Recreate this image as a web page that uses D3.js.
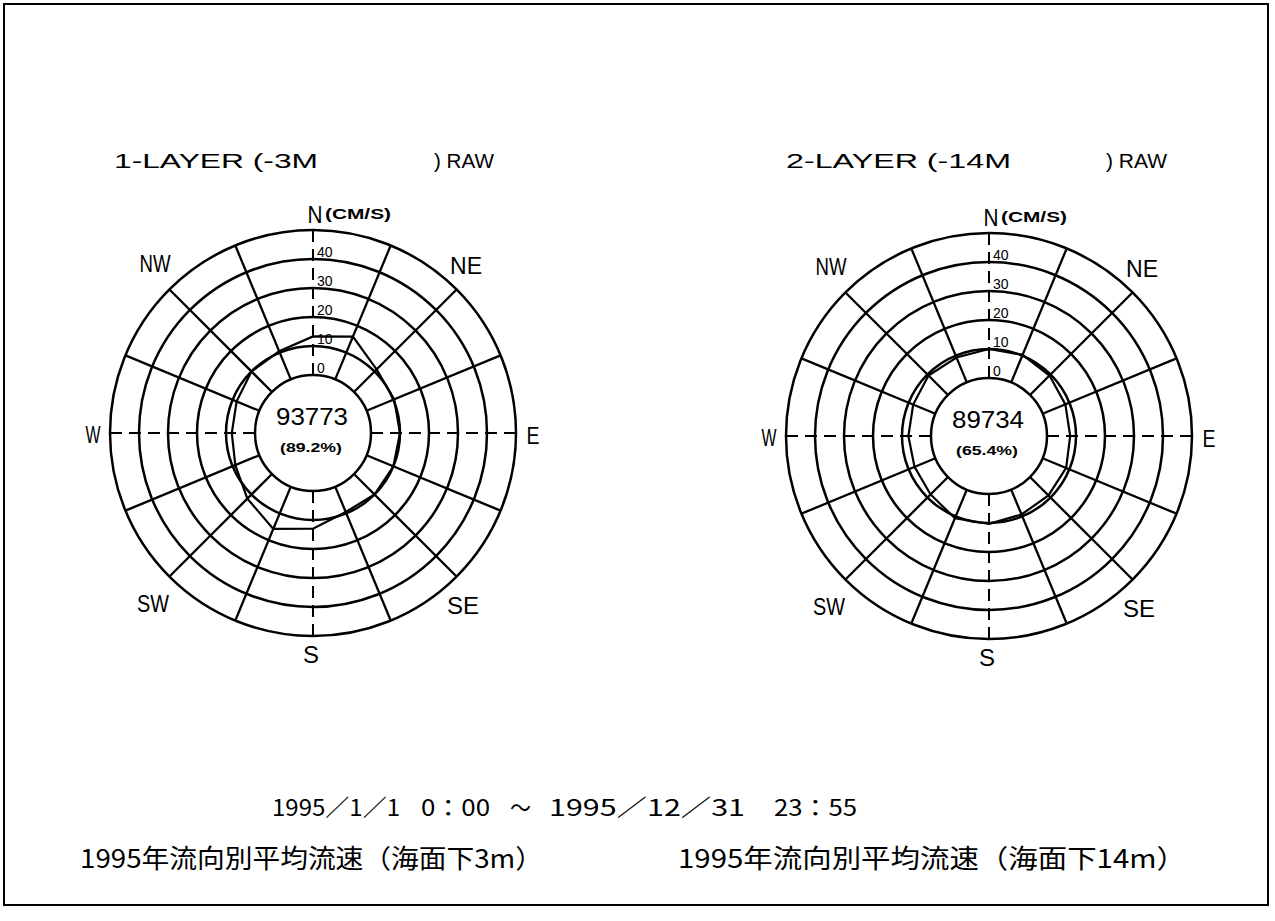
<!DOCTYPE html>
<html><head><meta charset="utf-8">
<script src="https://cdn.jsdelivr.net/npm/d3@7"></script>
<style>html,body{margin:0;padding:0;background:#fff;} svg{display:block}</style>
</head><body><svg id="c" width="1275" height="921"></svg>
<script>
// ---------- data ----------
const directions = ["N","NNE","NE","ENE","E","ESE","SE","SSE","S","SSW","SW","WSW","W","WNW","NW","NNW"];
const layer1Speeds = [13.3,16.0,11.0,10.3,10.0,10.0,10.0,9.5,13.0,15.8,12.0,9.0,8.0,8.5,10.0,10.5];
const layer2Speeds = [10.0,10.3,9.5,8.5,8.0,8.8,9.0,9.3,10.3,10.7,8.5,7.8,7.8,8.3,9.5,9.3];
const ringValues = [0,10,20,30,40,50];
const ringLabels = ["0","10","20","30","40"];
const compassLabels = ["N","NE","E","SE","S","SW","W","NW"];
const layerTitles = ["1-LAYER (-3M","2-LAYER (-14M"];
const rawLabel = ") RAW";
const unitLabel = "(CM/S)";
const dataCounts = ["93773","89734"];
const dataPercents = ["(89.2%)","(65.4%)"];
const captions = ["1995年流向別平均流速（海面下3m）","1995年流向別平均流速（海面下14m）"];
const periodParts = ["1995／1／1","0：00","～","1995／12／31","23：55"];

// ---------- layout ----------
const svg = d3.select("#c");
svg.append("rect").attr("width",1275).attr("height",921).attr("fill","#fff");
svg.append("rect").attr("x",4).attr("y",4).attr("width",1264).attr("height",901)
  .attr("fill","none").attr("stroke","#000").attr("stroke-width",2);

const FONT = "'Liberation Sans', Arial, sans-serif";
const JFONT = "'Noto Sans CJK JP', sans-serif";

const charts = [
  {cx:313, cy:433, speeds:layer1Speeds, title:layerTitles[0], tX:[114,318], rX:[434,494], count:dataCounts[0], pct:dataPercents[0], cap:captions[0], capX:[80,543]},
  {cx:989, cy:436, speeds:layer2Speeds, title:layerTitles[1], tX:[786,1011], rX:[1106,1167], count:dataCounts[1], pct:dataPercents[1], cap:captions[1], capX:[678,1186]}
];

const rScale = d3.scaleLinear().domain([0,50]).range([58,203]);
const aScale = d3.scaleLinear().domain([0,directions.length]).range([0,2*Math.PI]);

// compass label placement (dx, dy from centre, width)
const compassPos = {
  N:[2,-210,15], NE:[153,-159,32], E:[220,11,13], SE:[150,181,32],
  S:[-2,230,16], SW:[-160,179,32], W:[-220,10,15], NW:[-158,-161,31]
};

charts.forEach(c => {
  const g = svg.append("g").attr("transform",`translate(${c.cx},${c.cy})`);
  // rings
  g.selectAll("circle.ring").data(ringValues).enter().append("circle")
    .attr("r", d => rScale(d)).attr("fill","none").attr("stroke","#000").attr("stroke-width",2.5);
  // radial lines
  directions.forEach((d,i) => {
    const a = aScale(i);
    const r0 = rScale(0), r1 = rScale(50);
    const cardinal = i % 4 === 0;
    g.append("line")
      .attr("x1", r0*Math.sin(a)).attr("y1", -r0*Math.cos(a))
      .attr("x2", r1*Math.sin(a)).attr("y2", -r1*Math.cos(a))
      .attr("stroke","#000").attr("stroke-width", cardinal ? 2 : 2.3)
      .attr("stroke-dasharray", cardinal ? "12,7" : null);
  });
  // data polygon
  const line = d3.lineRadial()
    .angle((d,i) => aScale(i))
    .radius(d => rScale(d))
    .curve(d3.curveLinearClosed);
  g.append("path").attr("d", line(c.speeds)).attr("fill","none")
    .attr("stroke","#000").attr("stroke-width",2.2);
  // ring labels along north
  ringLabels.forEach((t,i) => {
    g.append("text").attr("x",4).attr("y",-rScale(ringValues[i]) - 2)
      .attr("font-family",FONT).attr("font-size",14).text(t);
  });
  // compass labels
  compassLabels.forEach(k => {
    const p = compassPos[k];
    g.append("text").attr("x",p[0]).attr("y",p[1]).attr("text-anchor","middle")
      .attr("font-family",FONT).attr("font-size",24)
      .attr("textLength",p[2]).attr("lengthAdjust","spacingAndGlyphs").text(k);
  });
  g.append("text").attr("x",12).attr("y",-214).attr("font-family",FONT).attr("font-size",14)
    .attr("font-weight","bold").attr("textLength",66).attr("lengthAdjust","spacingAndGlyphs").text(unitLabel);
  // centre texts
  g.append("text").attr("x",-1).attr("y",-8).attr("text-anchor","middle")
    .attr("font-family",FONT).attr("font-size",23)
    .attr("textLength",72).attr("lengthAdjust","spacingAndGlyphs").text(c.count);
  g.append("text").attr("x",-2).attr("y",19).attr("text-anchor","middle")
    .attr("font-family",FONT).attr("font-size",13).attr("font-weight","bold")
    .attr("textLength",62).attr("lengthAdjust","spacingAndGlyphs").text(c.pct);
  // title
  svg.append("text").attr("x",c.tX[0]).attr("y",168).attr("font-family",FONT).attr("font-size",21)
    .attr("textLength",c.tX[1]-c.tX[0]).attr("lengthAdjust","spacingAndGlyphs").text(c.title);
  svg.append("text").attr("x",c.rX[0]).attr("y",168).attr("font-family",FONT).attr("font-size",21)
    .attr("textLength",c.rX[1]-c.rX[0]).attr("lengthAdjust","spacingAndGlyphs").text(rawLabel);
  // caption
  svg.append("text").attr("x",c.capX[0]).attr("y",868).attr("font-family",JFONT).attr("font-size",26)
    .attr("textLength",c.capX[1]-c.capX[0]).attr("lengthAdjust","spacingAndGlyphs").text(c.cap);
});

// period line
const periodX = [[272,400],[421,490],[510,531],[549,745],[774,857]];
periodParts.forEach((t,i) => {
  svg.append("text").attr("x",periodX[i][0]).attr("y",816).attr("font-family",JFONT).attr("font-size",23)
    .attr("textLength",periodX[i][1]-periodX[i][0]).attr("lengthAdjust","spacingAndGlyphs").text(t);
});
</script></body></html>
